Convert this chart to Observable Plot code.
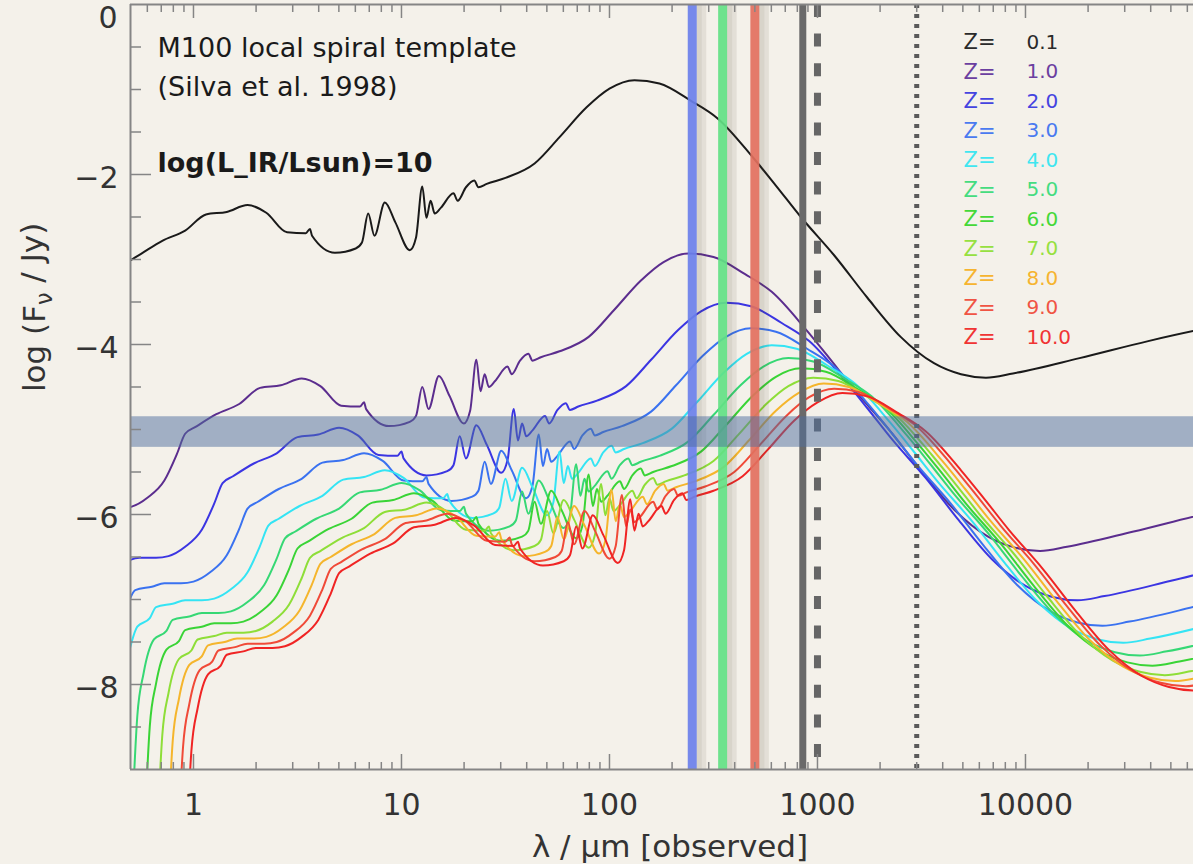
<!DOCTYPE html>
<html><head><meta charset="utf-8">
<script src="https://cdn.jsdelivr.net/npm/d3@7"></script>
<script src="https://cdn.jsdelivr.net/npm/@observablehq/plot@0.6"></script>
<style>
html,body{margin:0;padding:0;background:#f4f1ea;}
#chart{width:1193px;height:864px;overflow:hidden;}
</style></head><body><div id="chart"></div>
<script>
// ---- data: [log10(lambda_obs / um), log10(F_nu / Jy)] ----
const redshiftLabels = ["0.1","1.0","2.0","3.0","4.0","5.0","6.0","7.0","8.0","9.0","10.0"];
const curveColors  = ["#1a1a1a","#5b2d8e","#3b35e2","#3a72f0","#34e4f4","#36d874","#3ad436","#8ede38","#f5b52c","#f04a38","#f02424"];
const legendColors = ["#2a2a2a","#6b3fa0","#4444e0","#4a7af0","#40e6f0","#44dc80","#44d838","#96e040","#f6b430","#f05444","#f03434"];

const sedZ01 = [[-0.31,-3.02],[-0.25,-2.93],[-0.15,-2.78],[-0.04,-2.66],[0.06,-2.47],[0.16,-2.44],[0.26,-2.36],[0.35,-2.45],[0.45,-2.68],[0.54,-2.69],[0.56,-2.64],[0.57,-2.72],[0.68,-2.92],[0.78,-2.87],[0.81,-2.80],[0.84,-2.46],[0.87,-2.72],[0.92,-2.33],[0.97,-2.56],[1.04,-2.89],[1.07,-2.74],[1.10,-2.14],[1.12,-2.51],[1.14,-2.31],[1.16,-2.46],[1.19,-2.39],[1.25,-2.22],[1.27,-2.31],[1.31,-2.15],[1.35,-2.07],[1.37,-2.15],[1.41,-2.11],[1.50,-2.04],[1.64,-1.87],[1.76,-1.56],[1.89,-1.21],[2.00,-0.99],[2.12,-0.89],[2.24,-0.93],[2.39,-1.13],[2.52,-1.34],[2.69,-1.80],[2.80,-2.13],[2.92,-2.50],[3.08,-2.95],[3.24,-3.45],[3.40,-3.91],[3.56,-4.22],[3.69,-4.35],[3.81,-4.39],[3.94,-4.34],[4.26,-4.16],[4.59,-3.96],[4.81,-3.84],[4.85,-3.82]];

const sedZ1 = [[-0.36,-5.93],[-0.30,-5.91],[-0.22,-5.80],[-0.14,-5.60],[-0.08,-5.29],[-0.04,-5.05],[0.01,-4.97],[0.11,-4.82],[0.22,-4.70],[0.32,-4.51],[0.42,-4.48],[0.52,-4.40],[0.61,-4.49],[0.71,-4.72],[0.80,-4.73],[0.82,-4.68],[0.83,-4.76],[0.94,-4.96],[1.04,-4.91],[1.07,-4.84],[1.10,-4.50],[1.13,-4.76],[1.18,-4.37],[1.23,-4.60],[1.30,-4.93],[1.33,-4.78],[1.36,-4.18],[1.38,-4.55],[1.40,-4.35],[1.42,-4.50],[1.45,-4.43],[1.51,-4.26],[1.53,-4.35],[1.57,-4.19],[1.61,-4.11],[1.63,-4.19],[1.67,-4.15],[1.76,-4.08],[1.90,-3.91],[2.02,-3.60],[2.15,-3.25],[2.26,-3.03],[2.38,-2.93],[2.50,-2.97],[2.65,-3.17],[2.78,-3.38],[2.95,-3.84],[3.06,-4.17],[3.18,-4.54],[3.34,-4.99],[3.50,-5.49],[3.66,-5.95],[3.82,-6.26],[3.95,-6.39],[4.07,-6.43],[4.20,-6.38],[4.52,-6.20],[4.85,-6.00],[5.07,-5.88]];

const sedZ2 = [[-0.32,-6.55],[-0.26,-6.51],[-0.18,-6.51],[-0.12,-6.49],[-0.04,-6.38],[0.04,-6.18],[0.10,-5.87],[0.14,-5.63],[0.19,-5.55],[0.29,-5.40],[0.40,-5.28],[0.50,-5.09],[0.60,-5.06],[0.70,-4.98],[0.79,-5.07],[0.89,-5.30],[0.98,-5.31],[1.00,-5.26],[1.01,-5.34],[1.12,-5.54],[1.22,-5.49],[1.25,-5.42],[1.28,-5.08],[1.31,-5.34],[1.36,-4.95],[1.41,-5.18],[1.48,-5.51],[1.51,-5.36],[1.54,-4.76],[1.56,-5.13],[1.58,-4.93],[1.60,-5.08],[1.63,-5.01],[1.69,-4.84],[1.71,-4.93],[1.75,-4.77],[1.79,-4.69],[1.81,-4.77],[1.85,-4.73],[1.94,-4.66],[2.08,-4.49],[2.20,-4.18],[2.33,-3.83],[2.44,-3.61],[2.56,-3.51],[2.68,-3.55],[2.83,-3.75],[2.96,-3.96],[3.13,-4.42],[3.24,-4.75],[3.36,-5.12],[3.52,-5.57],[3.68,-6.07],[3.84,-6.53],[4.00,-6.84],[4.13,-6.97],[4.25,-7.01],[4.38,-6.96],[4.70,-6.78],[5.03,-6.58],[5.25,-6.46]];

const sedZ3 = [[-0.31,-7.02],[-0.28,-6.89],[-0.20,-6.85],[-0.14,-6.81],[-0.06,-6.81],[0.00,-6.79],[0.08,-6.68],[0.16,-6.48],[0.22,-6.17],[0.26,-5.93],[0.31,-5.85],[0.41,-5.70],[0.52,-5.58],[0.62,-5.39],[0.72,-5.36],[0.82,-5.28],[0.91,-5.37],[1.01,-5.60],[1.10,-5.61],[1.12,-5.56],[1.13,-5.64],[1.24,-5.84],[1.34,-5.79],[1.37,-5.72],[1.40,-5.38],[1.43,-5.64],[1.48,-5.25],[1.53,-5.48],[1.60,-5.81],[1.63,-5.66],[1.66,-5.06],[1.68,-5.43],[1.70,-5.23],[1.72,-5.38],[1.75,-5.31],[1.81,-5.14],[1.83,-5.23],[1.87,-5.07],[1.91,-4.99],[1.93,-5.07],[1.97,-5.03],[2.06,-4.96],[2.20,-4.79],[2.32,-4.48],[2.45,-4.13],[2.56,-3.91],[2.68,-3.81],[2.80,-3.85],[2.95,-4.05],[3.08,-4.26],[3.25,-4.72],[3.36,-5.05],[3.48,-5.42],[3.64,-5.87],[3.80,-6.37],[3.96,-6.83],[4.12,-7.14],[4.25,-7.27],[4.37,-7.31],[4.50,-7.26],[4.82,-7.08],[5.15,-6.88],[5.37,-6.76]];

const sedZ4 = [[-0.32,-7.72],[-0.27,-7.32],[-0.21,-7.22],[-0.18,-7.09],[-0.10,-7.05],[-0.04,-7.01],[0.04,-7.01],[0.10,-6.99],[0.18,-6.88],[0.26,-6.68],[0.32,-6.37],[0.36,-6.13],[0.41,-6.05],[0.51,-5.90],[0.62,-5.78],[0.72,-5.59],[0.82,-5.56],[0.92,-5.48],[1.01,-5.57],[1.11,-5.80],[1.20,-5.81],[1.22,-5.76],[1.23,-5.84],[1.34,-6.04],[1.44,-5.99],[1.47,-5.92],[1.50,-5.58],[1.53,-5.84],[1.58,-5.45],[1.63,-5.68],[1.70,-6.01],[1.73,-5.86],[1.76,-5.26],[1.78,-5.63],[1.80,-5.43],[1.82,-5.58],[1.85,-5.51],[1.91,-5.34],[1.93,-5.43],[1.97,-5.27],[2.01,-5.19],[2.03,-5.27],[2.07,-5.23],[2.16,-5.16],[2.30,-4.99],[2.42,-4.68],[2.55,-4.33],[2.66,-4.11],[2.78,-4.01],[2.90,-4.05],[3.05,-4.25],[3.18,-4.46],[3.35,-4.92],[3.46,-5.25],[3.58,-5.62],[3.74,-6.07],[3.90,-6.57],[4.06,-7.03],[4.22,-7.34],[4.35,-7.47],[4.47,-7.51],[4.60,-7.46],[4.92,-7.28],[5.25,-7.08]];

const sedZ5 = [[-0.30,-9.87],[-0.27,-8.37],[-0.24,-7.87],[-0.19,-7.47],[-0.13,-7.37],[-0.10,-7.24],[-0.02,-7.20],[0.04,-7.16],[0.12,-7.16],[0.18,-7.14],[0.26,-7.03],[0.34,-6.83],[0.40,-6.52],[0.44,-6.28],[0.49,-6.20],[0.59,-6.05],[0.70,-5.93],[0.80,-5.74],[0.90,-5.71],[1.00,-5.63],[1.09,-5.72],[1.19,-5.95],[1.28,-5.96],[1.30,-5.91],[1.31,-5.99],[1.42,-6.19],[1.52,-6.14],[1.55,-6.07],[1.58,-5.73],[1.61,-5.99],[1.66,-5.60],[1.71,-5.83],[1.78,-6.16],[1.81,-6.01],[1.84,-5.41],[1.86,-5.78],[1.88,-5.58],[1.90,-5.73],[1.93,-5.66],[1.99,-5.49],[2.01,-5.58],[2.05,-5.42],[2.09,-5.34],[2.11,-5.42],[2.15,-5.38],[2.24,-5.31],[2.38,-5.14],[2.50,-4.83],[2.63,-4.48],[2.74,-4.26],[2.86,-4.16],[2.98,-4.20],[3.13,-4.40],[3.26,-4.61],[3.43,-5.07],[3.54,-5.40],[3.66,-5.77],[3.82,-6.22],[3.98,-6.72],[4.14,-7.18],[4.30,-7.49],[4.43,-7.62],[4.55,-7.66],[4.68,-7.61],[5.00,-7.43],[5.33,-7.23]];

const sedZ6 = [[-0.24,-9.99],[-0.21,-8.49],[-0.18,-7.99],[-0.13,-7.59],[-0.07,-7.49],[-0.04,-7.36],[0.04,-7.32],[0.10,-7.28],[0.18,-7.28],[0.24,-7.26],[0.32,-7.15],[0.40,-6.95],[0.46,-6.64],[0.50,-6.40],[0.55,-6.32],[0.65,-6.17],[0.76,-6.05],[0.86,-5.86],[0.96,-5.83],[1.06,-5.75],[1.15,-5.84],[1.25,-6.07],[1.34,-6.08],[1.36,-6.03],[1.37,-6.11],[1.48,-6.31],[1.58,-6.26],[1.61,-6.19],[1.64,-5.85],[1.67,-6.11],[1.72,-5.72],[1.77,-5.95],[1.84,-6.28],[1.87,-6.13],[1.90,-5.53],[1.92,-5.90],[1.94,-5.70],[1.96,-5.85],[1.99,-5.78],[2.05,-5.61],[2.07,-5.70],[2.11,-5.54],[2.15,-5.46],[2.17,-5.54],[2.21,-5.50],[2.30,-5.43],[2.44,-5.26],[2.56,-4.95],[2.69,-4.60],[2.80,-4.38],[2.92,-4.28],[3.04,-4.32],[3.19,-4.52],[3.32,-4.73],[3.49,-5.19],[3.60,-5.52],[3.72,-5.89],[3.88,-6.34],[4.04,-6.84],[4.20,-7.30],[4.36,-7.61],[4.49,-7.74],[4.61,-7.78],[4.74,-7.73],[5.06,-7.55],[5.39,-7.35]];

const sedZ7 = [[-0.18,-10.1],[-0.15,-8.60],[-0.12,-8.10],[-0.07,-7.70],[-0.01,-7.60],[0.02,-7.47],[0.10,-7.43],[0.16,-7.39],[0.24,-7.39],[0.30,-7.37],[0.38,-7.26],[0.46,-7.06],[0.52,-6.75],[0.56,-6.51],[0.61,-6.43],[0.71,-6.28],[0.82,-6.16],[0.92,-5.97],[1.02,-5.94],[1.12,-5.86],[1.21,-5.95],[1.31,-6.18],[1.40,-6.19],[1.42,-6.14],[1.43,-6.22],[1.54,-6.42],[1.64,-6.37],[1.67,-6.30],[1.70,-5.96],[1.73,-6.22],[1.78,-5.83],[1.83,-6.06],[1.90,-6.39],[1.93,-6.24],[1.96,-5.64],[1.98,-6.01],[2.00,-5.81],[2.02,-5.96],[2.05,-5.89],[2.11,-5.72],[2.13,-5.81],[2.17,-5.65],[2.21,-5.57],[2.23,-5.65],[2.27,-5.61],[2.36,-5.54],[2.50,-5.37],[2.62,-5.06],[2.75,-4.71],[2.86,-4.49],[2.98,-4.39],[3.10,-4.43],[3.25,-4.63],[3.38,-4.84],[3.55,-5.30],[3.66,-5.63],[3.78,-6.00],[3.94,-6.45],[4.10,-6.95],[4.26,-7.41],[4.42,-7.72],[4.55,-7.85],[4.67,-7.89],[4.80,-7.84],[5.12,-7.66],[5.45,-7.46]];

const sedZ8 = [[-0.13,-10.2],[-0.10,-8.67],[-0.07,-8.17],[-0.02,-7.77],[0.04,-7.67],[0.07,-7.54],[0.15,-7.50],[0.21,-7.46],[0.29,-7.46],[0.35,-7.44],[0.43,-7.33],[0.51,-7.13],[0.57,-6.82],[0.61,-6.58],[0.66,-6.50],[0.76,-6.35],[0.87,-6.23],[0.97,-6.04],[1.07,-6.01],[1.17,-5.93],[1.26,-6.02],[1.36,-6.25],[1.45,-6.26],[1.47,-6.21],[1.48,-6.29],[1.59,-6.49],[1.69,-6.44],[1.72,-6.37],[1.75,-6.03],[1.78,-6.29],[1.83,-5.90],[1.88,-6.13],[1.95,-6.46],[1.98,-6.31],[2.01,-5.71],[2.03,-6.08],[2.05,-5.88],[2.07,-6.03],[2.10,-5.96],[2.16,-5.79],[2.18,-5.88],[2.22,-5.72],[2.26,-5.64],[2.28,-5.72],[2.32,-5.68],[2.41,-5.61],[2.55,-5.44],[2.67,-5.13],[2.80,-4.78],[2.91,-4.57],[3.03,-4.46],[3.15,-4.50],[3.30,-4.70],[3.43,-4.91],[3.60,-5.37],[3.71,-5.70],[3.83,-6.07],[3.99,-6.52],[4.15,-7.02],[4.31,-7.48],[4.47,-7.79],[4.60,-7.92],[4.72,-7.96],[4.85,-7.91],[5.17,-7.73]];

const sedZ9 = [[-0.08,-10.2],[-0.05,-8.73],[-0.02,-8.23],[0.03,-7.83],[0.09,-7.73],[0.12,-7.60],[0.20,-7.56],[0.26,-7.52],[0.34,-7.52],[0.40,-7.50],[0.48,-7.39],[0.56,-7.19],[0.62,-6.88],[0.66,-6.64],[0.71,-6.56],[0.81,-6.41],[0.92,-6.29],[1.02,-6.10],[1.12,-6.07],[1.22,-5.99],[1.31,-6.08],[1.41,-6.31],[1.50,-6.32],[1.52,-6.27],[1.53,-6.35],[1.64,-6.55],[1.74,-6.50],[1.77,-6.43],[1.80,-6.09],[1.83,-6.35],[1.88,-5.96],[1.93,-6.19],[2.00,-6.52],[2.03,-6.37],[2.06,-5.77],[2.08,-6.14],[2.10,-5.94],[2.12,-6.09],[2.15,-6.02],[2.21,-5.85],[2.23,-5.94],[2.27,-5.78],[2.31,-5.70],[2.33,-5.78],[2.37,-5.74],[2.46,-5.67],[2.60,-5.50],[2.72,-5.19],[2.85,-4.84],[2.96,-4.62],[3.08,-4.52],[3.20,-4.56],[3.35,-4.76],[3.48,-4.97],[3.65,-5.43],[3.76,-5.76],[3.88,-6.13],[4.04,-6.58],[4.20,-7.08],[4.36,-7.54],[4.52,-7.85],[4.65,-7.98],[4.77,-8.02],[4.90,-7.97],[5.22,-7.79]];

const sedZ10 = [[-0.04,-10.3],[-0.01,-8.78],[0.02,-8.28],[0.07,-7.88],[0.13,-7.78],[0.16,-7.65],[0.24,-7.61],[0.30,-7.57],[0.38,-7.57],[0.44,-7.55],[0.52,-7.44],[0.60,-7.24],[0.66,-6.93],[0.70,-6.69],[0.75,-6.61],[0.85,-6.46],[0.96,-6.34],[1.06,-6.15],[1.16,-6.12],[1.26,-6.04],[1.35,-6.13],[1.45,-6.36],[1.54,-6.37],[1.56,-6.32],[1.57,-6.40],[1.68,-6.60],[1.78,-6.55],[1.81,-6.48],[1.84,-6.14],[1.87,-6.40],[1.92,-6.01],[1.97,-6.24],[2.04,-6.57],[2.07,-6.42],[2.10,-5.82],[2.12,-6.19],[2.14,-5.99],[2.16,-6.14],[2.19,-6.07],[2.25,-5.90],[2.27,-5.99],[2.31,-5.83],[2.35,-5.75],[2.37,-5.83],[2.41,-5.79],[2.50,-5.72],[2.64,-5.55],[2.76,-5.24],[2.89,-4.89],[3.00,-4.68],[3.12,-4.57],[3.24,-4.61],[3.39,-4.81],[3.52,-5.02],[3.69,-5.48],[3.80,-5.81],[3.92,-6.18],[4.08,-6.63],[4.24,-7.13],[4.40,-7.59],[4.56,-7.90],[4.69,-8.03],[4.81,-8.07],[4.94,-8.02],[5.26,-7.84]];

const sedCurves = [sedZ01, sedZ1, sedZ2, sedZ3, sedZ4, sedZ5, sedZ6, sedZ7, sedZ8, sedZ9, sedZ10];

// observing bands (um)
const filterLam = [250, 350, 500];
const filterColors = ["#6a80ea", "#62e184", "#e2705e"];
const solidLam = [850];
const dashedLam = [1000];
const dottedLam = [3000];
const fluxBand = [[-5.21, -4.85]];

// axes
const xDomain = [0.498, 64240];
const yDomain = [-9, 0];
const majorX = [1, 10, 100, 1000, 10000];
const minorX = [0.6,0.7,0.8,0.9,2,3,4,5,6,7,8,9,20,30,40,50,60,70,80,90,200,300,400,500,600,700,800,900,2000,3000,4000,5000,6000,7000,8000,9000,20000,30000,40000,50000,60000];
const majorY = [-8, -6, -4, -2];
const topY = [0];
const minorY = [-8.5,-7.5,-7,-6.5,-5.5,-5,-4.5,-3.5,-3,-2.5,-1.5,-1,-0.5];

const annotations = ["M100 local spiral template", "(Silva et al. 1998)", "log(L_IR/Lsun)=10"];
const xTitle = ["λ / μm [observed]"];
const yTitle = ["log (Fν / Jy)"];

const FONT = "'DejaVu Sans', sans-serif";
const axisGrey = "#858585";
const yFormat = d => d === 0 ? "0" : "\u2212" + Math.abs(d);

const marks = [];
sedCurves.forEach((c, i) => {
  marks.push(Plot.line(c, {x: d => 10 ** d[0], y: d => d[1], stroke: curveColors[i], strokeWidth: 2, curve: "monotone-x", clip: true}));
});
// shadows of the filter lines
marks.push(Plot.ruleX(filterLam, {x: d => d, stroke: "#4a4030", strokeOpacity: 0.10, strokeWidth: 10, dx: 9}));
marks.push(Plot.ruleX(filterLam, {x: d => d, stroke: "#4a4030", strokeOpacity: 0.07, strokeWidth: 5, dx: 7}));
filterLam.forEach((l, i) => marks.push(Plot.ruleX([l], {x: d => d, stroke: filterColors[i], strokeWidth: 9, strokeOpacity: 0.92})));
marks.push(Plot.ruleX(solidLam, {x: d => d, stroke: "#6a6a6a", strokeWidth: 7}));
marks.push(Plot.ruleX(dashedLam, {x: d => d, stroke: "#666", strokeWidth: 7, strokeDasharray: "13,16.6"}));
marks.push(Plot.ruleX(dottedLam, {x: d => d, stroke: "#5a5a5a", strokeWidth: 5, strokeDasharray: "4,6"}));
marks.push(Plot.rect(fluxBand, {y1: d => d[0], y2: d => d[1], fill: "#4e6e9e", fillOpacity: 0.5}));

// frame lines
marks.push(Plot.ruleY([yDomain[0]], {stroke: axisGrey, strokeWidth: 2}));
marks.push(Plot.ruleY([yDomain[1]], {stroke: axisGrey, strokeWidth: 2}));
marks.push(Plot.ruleX([xDomain[0]], {stroke: axisGrey, strokeWidth: 2}));

// inward ticks
const noText = () => "";
marks.push(Plot.axisX(majorX, {anchor: "bottom", tickSize: 15, dy: -15, tickFormat: noText, stroke: axisGrey, strokeWidth: 1.5, label: null}));
marks.push(Plot.axisX(minorX, {anchor: "bottom", tickSize: 7, dy: -7, tickFormat: noText, stroke: axisGrey, strokeWidth: 1.5, label: null}));
marks.push(Plot.axisX(majorX, {anchor: "top", tickSize: 13, dy: 13, tickFormat: noText, stroke: axisGrey, strokeWidth: 1.5, label: null}));
marks.push(Plot.axisX(minorX, {anchor: "top", tickSize: 7, dy: 7, tickFormat: noText, stroke: axisGrey, strokeWidth: 1.5, label: null}));
marks.push(Plot.axisY(majorY, {anchor: "left", tickSize: 21, dx: 21, tickFormat: noText, stroke: axisGrey, strokeWidth: 1.5, label: null}));
marks.push(Plot.axisY(minorY, {anchor: "left", tickSize: 11, dx: 11, tickFormat: noText, stroke: axisGrey, strokeWidth: 1.5, label: null}));
// tick labels
marks.push(Plot.axisX(majorX, {anchor: "bottom", tickSize: 0, tickPadding: 24, tickFormat: d => String(d), fontSize: 30, color: "#333", label: null}));
marks.push(Plot.axisY(majorY, {anchor: "left", tickSize: 0, tickPadding: 12, dy: 4, tickFormat: yFormat, fontSize: 30, color: "#333", label: null}));
marks.push(Plot.axisY(topY, {anchor: "left", tickSize: 0, tickPadding: 13, dy: 14, tickFormat: yFormat, fontSize: 30, color: "#333", label: null}));

// axis titles
marks.push(Plot.text(xTitle, {text: d => d, frameAnchor: "bottom", dx: 8, dy: 78, lineAnchor: "middle", fontSize: 31, fill: "#333"}));
marks.push(Plot.text(yTitle, {text: d => d, frameAnchor: "left", dx: -95, dy: 5, rotate: -90, fontSize: 31, fill: "#333"}));

// annotations
const annDy = [44, 83, 159];
annotations.forEach((t, i) => marks.push(Plot.text([t], {text: d => d, frameAnchor: "top-left", dx: 27, dy: annDy[i], textAnchor: "start", lineAnchor: "middle", fontSize: 27, fontWeight: i === 2 ? "bold" : "normal", fill: "#1a1a1a"})));

// legend
redshiftLabels.forEach((lab, i) => {
  const dy = 38 + 29.5 * i;
  marks.push(Plot.text(["Z="], {text: d => d, frameAnchor: "top-left", dx: 833, dy, textAnchor: "start", lineAnchor: "middle", fontSize: 21, fill: legendColors[i]}));
  marks.push(Plot.text([lab], {text: d => d, frameAnchor: "top-left", dx: 896, dy, textAnchor: "start", lineAnchor: "middle", fontSize: 20, fill: legendColors[i]}));
});

const chart = Plot.plot({
  width: 1193, height: 864,
  marginLeft: 130, marginRight: 0, marginTop: 4, marginBottom: 95,
  style: {background: "#f4f1ea", fontFamily: FONT, color: "#333", overflow: "visible"},
  x: {type: "log", domain: xDomain, axis: null},
  y: {domain: yDomain, axis: null},
  marks
});
document.getElementById("chart").appendChild(chart);

// subscript nu in the y title
d3.select(chart).selectAll("text").each(function () {
  const el = d3.select(this);
  if (el.text() === yTitle[0]) {
    const full = yTitle[0];
    const k = full.indexOf("ν");
    el.text(null);
    el.append("tspan").text(full.slice(0, k));
    el.append("tspan").attr("dy", "0.3em").attr("font-size", "0.72em").text("ν");
    el.append("tspan").attr("dy", "-0.3em").text(full.slice(k + 1));
  }
});
</script></body></html>
